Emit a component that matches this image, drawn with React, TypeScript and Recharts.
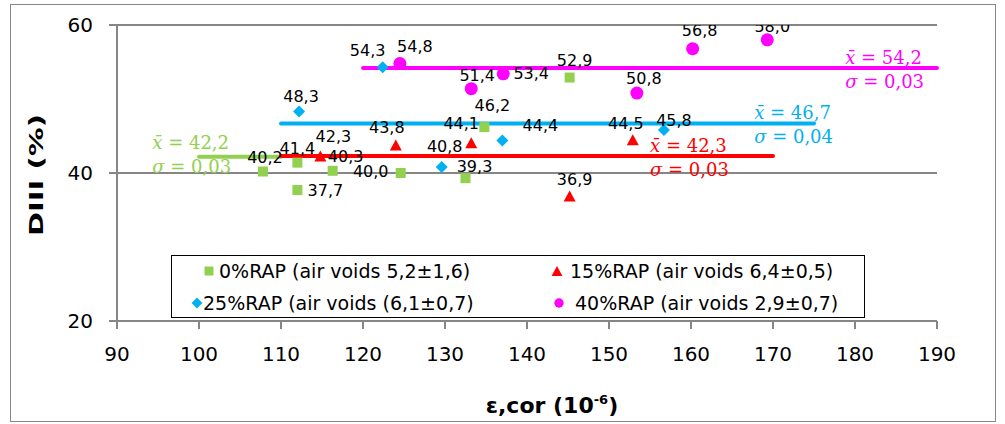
import {
  CartesianGrid,
  Label,
  Legend,
  ReferenceDot,
  ReferenceLine,
  Scatter,
  ScatterChart,
  XAxis,
  YAxis,
} from "recharts";

const xTicks = [90, 100, 110, 120, 130, 140, 150, 160, 170, 180, 190];
const yTicks = [20, 40, 60];

const seriesNames = [
  "0%RAP (air voids 5,2±1,6)",
  "15%RAP (air voids 6,4±0,5)",
  "25%RAP (air voids (6,1±0,7)",
  "40%RAP (air voids 2,9±0,7)",
];

const rap0X = [107.8, 112.0, 112.0, 116.3, 124.6, 132.5, 134.8, 145.2];
const rap0Y = [40.2, 41.4, 37.7, 40.3, 40.0, 39.3, 46.2, 52.9];
const rap15X = [114.8, 124.0, 133.2, 152.9, 145.2];
const rap15Y = [42.3, 43.8, 44.1, 44.5, 36.9];
const rap25X = [122.4, 112.2, 137.0, 129.6, 156.7];
const rap25Y = [54.3, 48.3, 44.4, 40.8, 45.8];
const rap40X = [124.5, 133.2, 137.1, 153.4, 160.2, 169.3];
const rap40Y = [54.8, 51.4, 53.4, 50.8, 56.8, 58.0];

// mean line per series and where it runs along x
const meanValues = [42.2, 42.3, 46.7, 54.2];
const sigmaValues = [0.03, 0.03, 0.04, 0.03];
const meanFrom = [100, 110, 110, 120];
const meanTo = [110, 170, 175, 190];

// layout: where the x̄ / σ notes sit, and label nudges (px) for each point
const noteX = [94.3, 155.0, 167.7, 178.8];
const noteY = [42.43, 42.03, 46.49, 53.87];
const rap0Lbl = [[2, -15], [0, -15], [28, 0], [13, -15], [-30, -2], [9, -12], [8, -22], [5, -18]];
const rap15Lbl = [[13, -20], [-9, -18], [-10, -20], [-7, -17], [5, -17]];
const rap25Lbl = [[-15, -17], [2, -16], [38, -15], [3, -21], [10, -10]];
const rap40Lbl = [[15, -17], [6, -14], [28, -1], [7, -15], [7, -19], [5, -14]];

const colors = ["#92D050", "#FF0000", "#00B0F0", "#FF00FF"];
const kinds = ["square", "triangle", "diamond", "circle"];
const FONT = "'DejaVu Sans', sans-serif";
const GRAY = "#868686";

const toRows = (xs: number[], ys: number[]) => xs.map((x, i) => ({ x, y: ys[i], i }));
const seriesData = [toRows(rap0X, rap0Y), toRows(rap15X, rap15Y), toRows(rap25X, rap25Y), toRows(rap40X, rap40Y)];
const labelNudges = [rap0Lbl, rap15Lbl, rap25Lbl, rap40Lbl];

const fmt = (v: number, d = 1) => v.toFixed(d).replace(".", ",");

function marker(kind: string, cx: number, cy: number, color: string, k = 1) {
  if (kind === "square") {
    const s = 10 * k;
    return <rect x={cx - s / 2} y={cy - s / 2} width={s} height={s} fill={color} />;
  }
  if (kind === "triangle") {
    const w = 6 * k;
    const h = 5.5 * k;
    return <polygon points={`${cx},${cy - h} ${cx + w},${cy + h} ${cx - w},${cy + h}`} fill={color} />;
  }
  if (kind === "diamond") {
    const s = 6 * k;
    return <polygon points={`${cx},${cy - s} ${cx + s},${cy} ${cx},${cy + s} ${cx - s},${cy}`} fill={color} />;
  }
  return <circle cx={cx} cy={cy} r={6.5 * k} fill={color} />;
}

const makeShape = (si: number) => (props: any) => {
  const { cx, cy, payload } = props;
  const [dx, dy] = labelNudges[si][payload.i];
  return (
    <g>
      {marker(kinds[si], cx, cy, colors[si])}
      <text
        x={cx + dx}
        y={cy + dy + 6}
        textAnchor="middle"
        fontSize={16}
        fontFamily={FONT}
        fill="#000"
      >
        {fmt(payload.y)}
      </text>
    </g>
  );
};

const renderNote = (si: number) => (props: any) => {
  const vb = props.viewBox;
  const x = vb.x + vb.width / 2;
  const y = vb.y + vb.height / 2;
  const style = { fontFamily: "'DejaVu Serif', serif", fontSize: 18, fill: colors[si] };
  return (
    <g>
      <text x={x} y={y - 6} {...style}>
        <tspan fontStyle="italic">{"x\u0304"}</tspan>
        {" = " + fmt(meanValues[si])}
      </text>
      <text x={x} y={y + 18} {...style}>
        <tspan fontStyle="italic">σ</tspan>
        {" = " + fmt(sigmaValues[si], 2)}
      </text>
    </g>
  );
};

// legend slots: [marker x, text x, row y] inside the legend box
const legendSlots = [
  [38, 48, 16],
  [386, 399, 16],
  [26, 32, 48],
  [388, 404, 48],
];

function LegendBox() {
  return (
    <div
      style={{
        position: "relative",
        width: 694,
        height: 63,
        border: "1.5px solid #000",
        boxSizing: "border-box",
        background: "#fff",
      }}
    >
      <svg width={694} height={63} style={{ position: "absolute", left: -1.5, top: -1.5 }}>
        {seriesNames.map((name, si) => {
          const [mx, tx, ry] = legendSlots[si];
          return (
            <g key={name}>
              {marker(kinds[si], mx, ry, colors[si], si === 3 ? 0.72 : 0.9)}
              <text x={tx} y={ry + 7} fontSize={19} fontFamily={FONT} fill="#000">
                {name}
              </text>
            </g>
          );
        })}
      </svg>
    </div>
  );
}

export default function App() {
  return (
    <div style={{ position: "absolute", left: 0, top: 0, width: 1005, height: 424, background: "#fff" }}>
      <div
        style={{
          position: "absolute",
          left: 10,
          top: 4,
          width: 986,
          height: 418,
          border: `1px solid ${GRAY}`,
          boxSizing: "border-box",
        }}
      />
      <ScatterChart width={1005} height={424} margin={{ top: 25, right: 68, bottom: 63, left: 57 }}>
        <CartesianGrid horizontal vertical={false} stroke={GRAY} strokeWidth={2} />
        <XAxis
          type="number"
          dataKey="x"
          domain={[90, 190]}
          ticks={xTicks}
          allowDataOverflow
          height={40}
          tickSize={8}
          tickMargin={18}
          axisLine={{ stroke: GRAY, strokeWidth: 2 }}
          tickLine={{ stroke: GRAY, strokeWidth: 2 }}
          tick={{ fill: "#000", fontSize: 20, fontFamily: FONT }}
        >
          <Label
            content={() => (
              <text x={552} y={413} textAnchor="middle" fontSize={22} fontWeight="bold" fontFamily={FONT} fill="#000">
                ε,cor (10
                <tspan dy={-9} fontSize={13}>
                  -6
                </tspan>
                <tspan dy={9}>)</tspan>
              </text>
            )}
          />
        </XAxis>
        <YAxis
          type="number"
          dataKey="y"
          domain={[20, 60]}
          ticks={yTicks}
          allowDataOverflow
          width={60}
          tickSize={8}
          tickMargin={16}
          axisLine={{ stroke: GRAY, strokeWidth: 2 }}
          tickLine={{ stroke: GRAY, strokeWidth: 2 }}
          tick={{ fill: "#000", fontSize: 20, fontFamily: FONT }}
        >
          <Label
            content={() => (
              <text
                transform="translate(43,175) rotate(-90) scale(1.45,1)"
                textAnchor="middle"
                fontSize={20}
                fontWeight="bold"
                fontFamily={FONT}
                fill="#000"
              >
                DIII (%)
              </text>
            )}
          />
        </YAxis>
        <Legend
          layout="vertical"
          align="center"
          verticalAlign="middle"
          content={() => <LegendBox />}
          wrapperStyle={{ position: "absolute", left: 171, top: 255, width: 694, height: 63 }}
        />
        {[3, 2, 0, 1].map((si) => (
          <ReferenceLine
            key={`mean-${si}`}
            segment={[
              { x: meanFrom[si], y: meanValues[si] },
              { x: meanTo[si], y: meanValues[si] },
            ]}
            stroke={colors[si]}
            strokeWidth={4}
            strokeLinecap="round"
          />
        ))}
        {[0, 1, 2, 3].map((si) => (
          <ReferenceDot
            key={`note-${si}`}
            x={noteX[si]}
            y={noteY[si]}
            r={1}
            fill="none"
            stroke="none"
            label={{ content: renderNote(si) }}
          />
        ))}
        {seriesData.map((rows, si) => (
          <Scatter
            key={seriesNames[si]}
            name={seriesNames[si]}
            data={rows}
            fill={colors[si]}
            shape={makeShape(si)}
            isAnimationActive={false}
          />
        ))}
      </ScatterChart>
    </div>
  );
}
